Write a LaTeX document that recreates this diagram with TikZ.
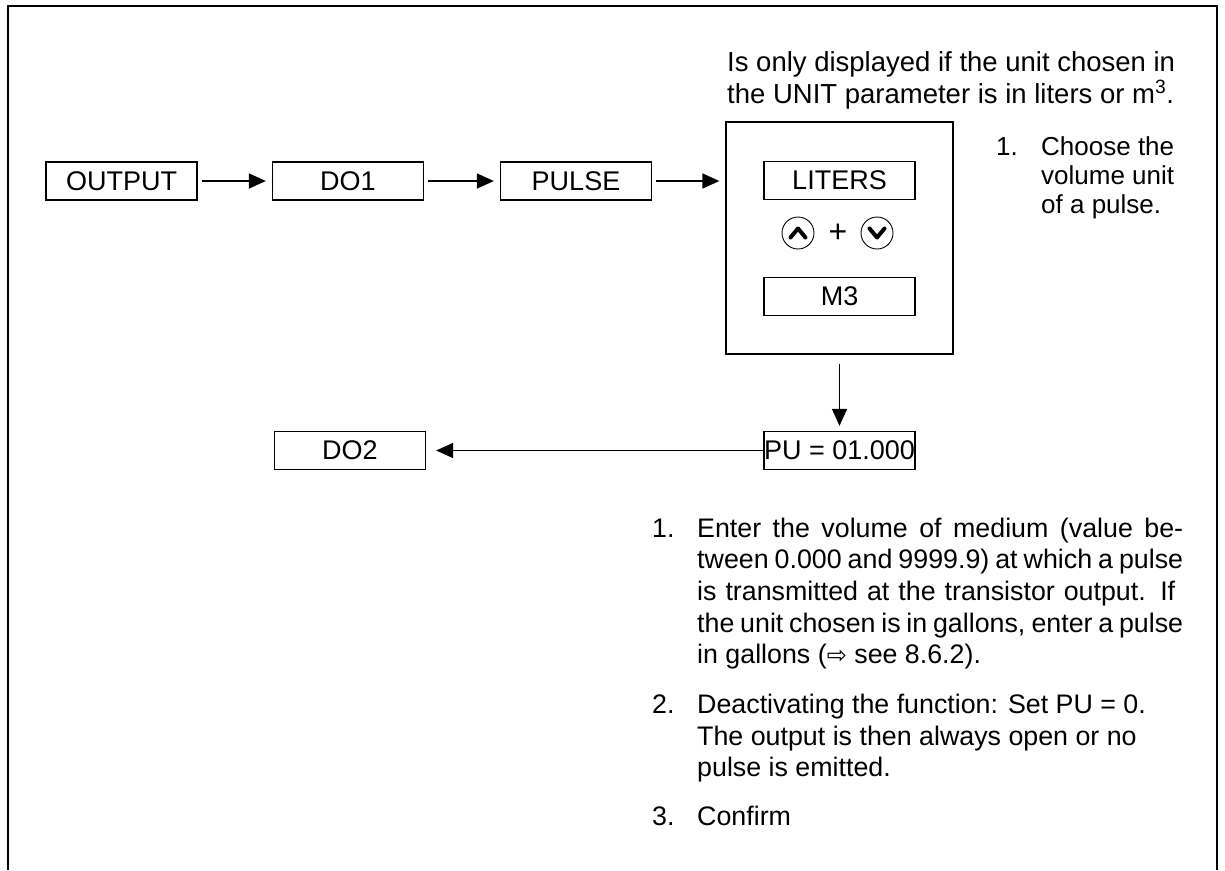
\documentclass[tikz,border=0pt]{standalone}
\usepackage{fontspec}
\setmainfont{Liberation Sans}
\newfontfamily\djv{DejaVu Sans}
\usetikzlibrary{arrows.meta}
\begin{document}
\begin{tikzpicture}[x=1pt,y=-1pt,
  every node/.style={font=\fontsize{27}{31}\selectfont},
  box/.style={draw, line width=1.3pt, minimum width=151pt, minimum height=38pt, inner sep=0pt},
  conn/.style={line width=1.6pt, -{Triangle[length=17pt,width=15pt]}},
  txt/.style={anchor=base west, inner sep=0pt},
  toptxt/.style={txt, font=\fontsize{27.5}{31}\selectfont},
  rtxt/.style={txt, font=\fontsize{26}{31}\selectfont},
  btxt/.style={txt, font=\fontsize{26.8}{31}\selectfont},
  btn/.style={draw, circle, line width=0.9pt, minimum size=32pt, inner sep=0pt},
  chev/.style={line width=4pt, line cap=round, line join=round}]
\useasboundingbox (0,0) rectangle (1225,870);
% frame
\draw[line width=2pt] (8,870) -- (8,6) -- (1217,6) -- (1217,870);
% boxes
\node[box] (output) at (121.5,181) {OUTPUT};
\node[box] (do1) at (348,181) {DO1};
\node[box] (pulse) at (576,181) {PULSE};
\node[draw, line width=1.3pt, minimum width=227pt, minimum height=232pt, inner sep=0pt] (menu) at (839.5,238) {};
\node[box] (liters) at (839.5,180.5) {LITERS};
\node[box] (m3) at (839.5,296.5) {M3};
\node[box] (pu) at (839.5,450.5) {PU = 01.000};
\node[box] (do2) at (350,450.5) {DO2};
% buttons
\node[btn] (up) at (798,233) {};
\node[btn] (down) at (877,233) {};
\node[font=\fontsize{32}{32}\selectfont] (plus) at (838,233) {+};
\draw[chev] ([shift={(-7.5,4.5)}]up.center) -- ([shift={(0,-4.5)}]up.center) -- ([shift={(7.5,4.5)}]up.center);
\draw[chev] ([shift={(-7.5,-4.5)}]down.center) -- ([shift={(0,4.5)}]down.center) -- ([shift={(7.5,-4.5)}]down.center);
% connectors
\draw[conn] ([xshift=4pt]output.east) -- ([xshift=-6pt]do1.west);
\draw[conn] ([xshift=4pt]do1.east) -- ([xshift=-6pt]pulse.west);
\draw[conn] ([xshift=4pt]pulse.east) -- ([xshift=-6pt]pulse.east -| menu.west);
\draw[conn] ([yshift=-9pt]menu.south) -- ([yshift=5pt]pu.north);
\draw[conn] (pu.west) -- ([xshift=10pt]do2.east);
% top note
\node[toptxt] (notea) at (727,71) {Is only displayed if the unit chosen in};
\node[toptxt] (noteb) at (727,103) {the UNIT parameter is in liters or m\textsuperscript{3}.};
% right note
\node[rtxt] (rn) at (996,155) {1.};
\node[rtxt] (ra) at (1041,155) {Choose the};
\node[rtxt] (rb) at (1041,184) {volume unit};
\node[rtxt] (rc) at (1041,213) {of a pulse.};
% bottom list
\node[btxt] (b1n) at (652,537) {1.};
\node[btxt] (b1a) at (697,537) {\makebox[486pt][s]{Enter the volume of medium (value be-}};
\node[btxt] (b1b) at (697,568.7) {\makebox[486pt][s]{tween 0.000 and 9999.9) at which a pulse}};
\node[btxt] (b1c) at (697,600.4) {\makebox[478pt][s]{is transmitted at the transistor output. If}};
\node[btxt] (b1d) at (697,632) {\makebox[486pt][s]{the unit chosen is in gallons, enter a pulse}};
\node[btxt] (b1e) at (697,663.8) {in gallons ({\djv\fontsize{24}{24}\selectfont ⇨} see 8.6.2).};
\node[btxt] (b2n) at (652,713) {2.};
\node[btxt] (b2a) at (697,713) {Deactivating the function: Set PU = 0.};
\node[btxt] (b2b) at (697,745) {The output is then always open or no};
\node[btxt] (b2c) at (697,776) {pulse is emitted.};
\node[btxt] (b3n) at (652,825) {3.};
\node[btxt] (b3a) at (697,825) {Confirm};
\end{tikzpicture}
\end{document}
